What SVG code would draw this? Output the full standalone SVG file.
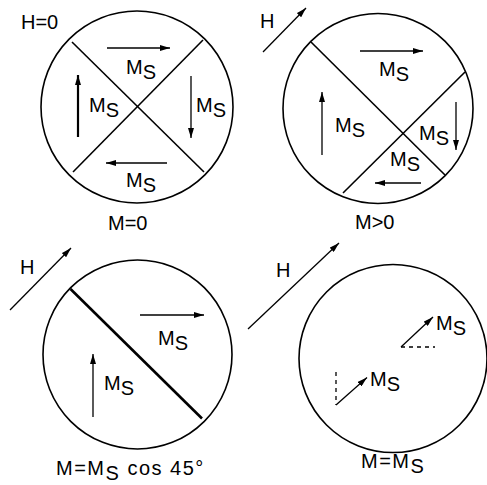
<svg xmlns="http://www.w3.org/2000/svg" width="487" height="485" viewBox="0 0 487 485">
<style>
text{font-family:"Liberation Sans",Arial,sans-serif;font-size:20px;fill:#000}
.ls{letter-spacing:1.5px}
.c{fill:none;stroke:#000;stroke-width:1.6}
.w{stroke:#000;stroke-width:1.6;fill:none}
.wt{stroke:#000;stroke-width:2.6;fill:none}
.a{stroke:#000;stroke-width:1.3;fill:none;marker-end:url(#ah)}
.at{stroke:#000;stroke-width:2.2;fill:none;marker-end:url(#ah)}
.d{stroke:#000;stroke-width:1.3;fill:none;stroke-dasharray:4 4}
</style>
<defs>
<marker id="ah" viewBox="0 0 10 6" refX="10" refY="3" markerWidth="10" markerHeight="6" markerUnits="userSpaceOnUse" orient="auto">
<path d="M0,0 L10,3 L0,6 z" fill="#000"/>
</marker>
</defs>
<rect width="487" height="485" fill="#fff"/>

<g id="panel1">
<text x="21" y="29">H=0</text>
<circle class="c" cx="137" cy="107" r="96"/>
<line class="w" x1="72" y1="42" x2="204" y2="172"/>
<line class="w" x1="203" y1="40" x2="73" y2="172"/>
<text x="108" y="230">M=0</text>
</g>
<g id="panel1-arrows">
<line class="a" x1="107" y1="48" x2="170" y2="48"/>
<line class="at" x1="78" y1="137" x2="78" y2="75"/>
<line class="a" x1="191" y1="76" x2="191" y2="138"/>
<line class="a" x1="167" y1="163" x2="106" y2="163"/>
<text x="126" y="74">M<tspan dy="5">S</tspan></text>
<text x="89" y="112">M<tspan dy="5">S</tspan></text>
<text x="196" y="112">M<tspan dy="5">S</tspan></text>
<text x="126" y="187">M<tspan dy="5">S</tspan></text>
</g>

<g id="panel2">
<text x="260" y="28">H</text>
<line class="a" x1="263" y1="52" x2="306" y2="8"/>
<circle class="c" cx="378" cy="108.5" r="95"/>
<line class="w" x1="311" y1="42" x2="445" y2="175"/>
<line class="w" x1="465" y1="72" x2="343" y2="193"/>
<text x="355" y="229">M&gt;0</text>
</g>
<g id="panel2-arrows">
<line class="a" x1="360" y1="51" x2="423" y2="51"/>
<line class="a" x1="322" y1="155" x2="322" y2="92"/>
<line class="a" x1="456" y1="102" x2="456" y2="150"/>
<line class="a" x1="421" y1="183" x2="375" y2="183"/>
<text x="379" y="76">M<tspan dy="5">S</tspan></text>
<text x="335" y="132">M<tspan dy="5">S</tspan></text>
<text x="419" y="140">M<tspan dy="5">S</tspan></text>
<text x="390" y="166">M<tspan dy="5">S</tspan></text>
</g>

<g id="panel3">
<text x="20" y="274">H</text>
<line class="a" x1="10" y1="310" x2="71" y2="248"/>
<circle class="c" cx="137.5" cy="354.5" r="94.5"/>
<line class="wt" x1="70.5" y1="289" x2="202" y2="418.5"/>
<text class="ls" x="56" y="475">M=M<tspan dy="5">S</tspan><tspan dy="-5"> cos 45°</tspan></text>
</g>
<g id="panel3-arrows">
<line class="a" x1="140" y1="315" x2="204" y2="315"/>
<line class="a" x1="93" y1="417" x2="93" y2="354"/>
<text x="158" y="345">M<tspan dy="5">S</tspan></text>
<text x="104" y="390">M<tspan dy="5">S</tspan></text>
</g>

<g id="panel4">
<text x="276" y="277">H</text>
<line class="a" x1="248" y1="329" x2="339" y2="243"/>
<circle class="c" cx="393" cy="358.5" r="94"/>
<text class="ls" x="361" y="468">M=M<tspan dy="5">S</tspan></text>
</g>
<g id="panel4-arrows">
<line class="d" x1="401" y1="347" x2="435" y2="347"/>
<line class="a" x1="401" y1="347" x2="433" y2="317"/>
<line class="d" x1="336" y1="372" x2="336" y2="405"/>
<line class="a" x1="336" y1="405" x2="367" y2="377.5"/>
<text x="436" y="330">M<tspan dy="5">S</tspan></text>
<text x="370" y="386">M<tspan dy="5">S</tspan></text>
</g>
</svg>
